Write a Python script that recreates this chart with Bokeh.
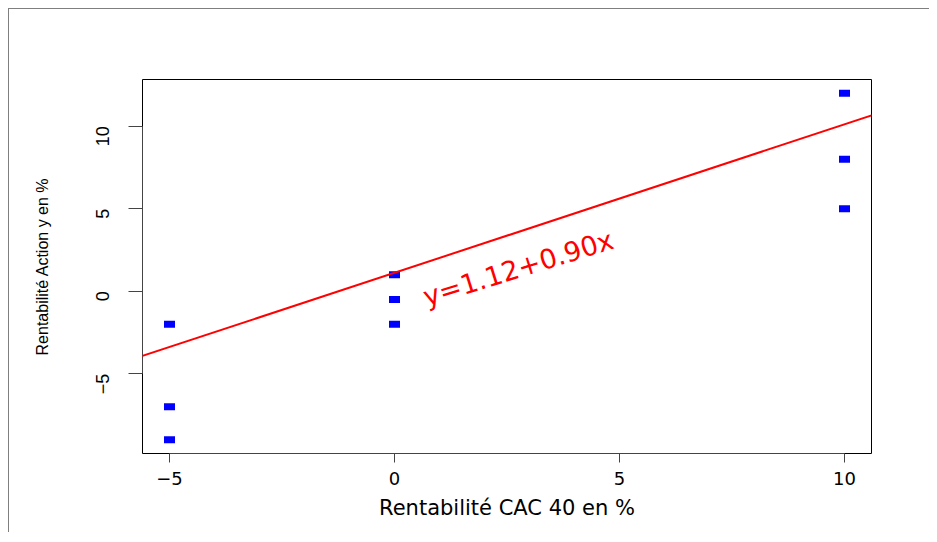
import math
from bokeh.plotting import figure
from bokeh.models import Range1d, FixedTicker, Slope, Label
from bokeh.embed import file_html
from bokeh.resources import INLINE

# Data
x_cac = [-5, -5, -5, 0, 0, 0, 10, 10, 10]
y_action = [-2, -7, -9, 1, -0.5, -2, 12, 8, 5]
intercept = 1.12
slope = 0.90
x_ticks = [-5, 0, 5, 10]
y_ticks = [-5, 0, 5, 10]
equation = "y=1.12+0.90x"
x_title = "Rentabilité CAC 40 en %"
y_title = "Rentabilité Action y en %"

p = figure(width=921, height=524, output_backend="svg", toolbar_location=None,
           x_range=Range1d(-5.6, 10.6), y_range=Range1d(-9.84, 12.84),
           min_border_left=133, min_border_top=70, min_border_right=59,
           min_border_bottom=80)
p.margin = (8, 0, 0, 8)
p.styles = {"border-top": "1px solid #7f7f7f", "border-left": "1px solid #7f7f7f"}
p.grid.visible = False
p.outline_line_color = "black"
p.outline_line_width = 1
p.background_fill_color = "white"
p.border_fill_color = "white"

# axes
for ax, ticks in ((p.xaxis[0], x_ticks), (p.yaxis[0], y_ticks)):
    ax.ticker = FixedTicker(ticks=ticks)
    ax.minor_tick_line_color = None
    ax.major_tick_in = 0
    ax.axis_line_color = "#444444"
    ax.major_tick_line_color = "#444444"
    ax.major_label_text_color = "black"
    ax.axis_label_text_color = "black"
    ax.axis_label_text_font_style = "normal"
    ax.bounds = (ticks[0], ticks[-1])

p.xaxis.major_tick_out = 9
p.xaxis.major_label_text_font = "DejaVu Sans"
p.xaxis.major_label_text_font_size = "18px"
p.xaxis.major_label_standoff = 9
p.xaxis.axis_label = x_title
p.xaxis.axis_label_text_font = "DejaVu Sans"
p.xaxis.axis_label_text_font_size = "21px"
p.xaxis.axis_label_standoff = 8

p.yaxis.major_tick_out = 14
p.yaxis.major_label_orientation = math.pi / 2
p.yaxis.major_label_text_font = "Liberation Sans"
p.yaxis.major_label_text_font_size = "18px"
p.yaxis.major_label_standoff = 26
p.yaxis.axis_label = y_title
p.yaxis.axis_label_text_font = "Liberation Sans"
p.yaxis.axis_label_text_font_size = "16px"
p.yaxis.axis_label_standoff = 36

# points
p.rect(x=x_cac, y=y_action, width=11, height=7, width_units="screen",
       height_units="screen", fill_color="#0000ff", line_color=None)

# regression line
p.add_layout(Slope(gradient=slope, y_intercept=intercept, line_color="#ff0000",
                   line_width=2))

# equation label
p.add_layout(Label(x=2.75, y=1.4, text=equation, angle=0.3, text_align="center",
                   text_baseline="middle", text_color="#ff0000",
                   text_font="DejaVu Sans", text_font_size="27px"))

open("out.html", "w").write(file_html(p, INLINE))
